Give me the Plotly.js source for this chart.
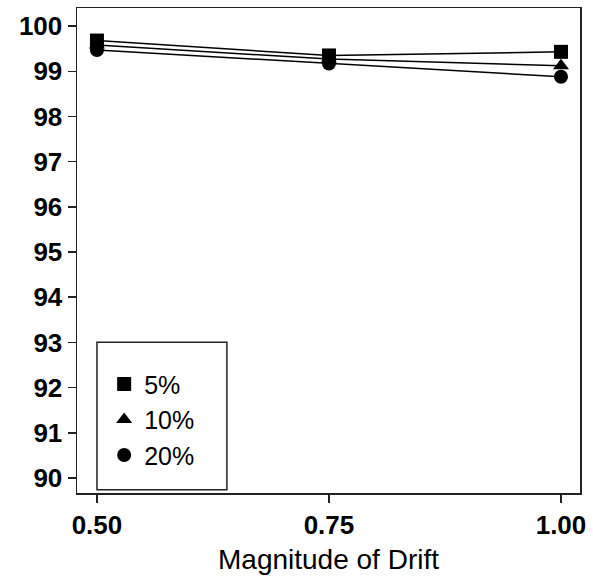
<!DOCTYPE html>
<html>
<head>
<meta charset="utf-8">
<script src="https://cdn.plot.ly/plotly-3.0.1.min.js"></script>
<style>html,body{margin:0;padding:0;background:#fff}#chart{width:593px;height:576px}</style>
</head>
<body>
<div id="chart"></div>
<script>
const drift = [0.50, 0.75, 1.00];
const seriesNames = ["5%", "10%", "20%"];
const pct5 = [99.68, 99.35, 99.43];
const pct10 = [99.58, 99.27, 99.12];
const pct20 = [99.47, 99.17, 98.88];
const xTickVals = [0.50, 0.75, 1.00];
const xTickText = ["0.50", "0.75", "1.00"];
const yTickVals = [90, 91, 92, 93, 94, 95, 96, 97, 98, 99, 100];

const symbols = ["square", "triangle-up", "circle"];
const allSeries = [pct5, pct10, pct20];

const traces = [];
allSeries.forEach((vals, i) => {
  traces.push({
    x: drift, y: vals, type: "scatter", mode: "lines+markers",
    name: seriesNames[i], showlegend: false,
    line: {color: "#000", width: 1.5},
    marker: {symbol: symbols[i], size: 14, color: "#000"}
  });
});
allSeries.forEach((vals, i) => {
  traces.push({
    x: [null], y: [null], type: "scatter", mode: "markers",
    name: seriesNames[i], showlegend: true,
    marker: {symbol: symbols[i], size: 14, color: "#000"}
  });
});

const font = {family: "Liberation Sans, Arial, sans-serif", color: "#000"};

const layout = {
  width: 593, height: 576,
  margin: {l: 77, r: 13, t: 7.5, b: 82.7, pad: 0},
  paper_bgcolor: "#fff", plot_bgcolor: "#fff",
  font: font,
  showlegend: true,
  legend: {
    x: 0.054, y: 0.151, xanchor: "left", yanchor: "middle",
    bgcolor: "rgba(0,0,0,0)", borderwidth: 0,
    font: {family: font.family, size: 25, color: "#000"},
    tracegroupgap: 0
  },
  xaxis: {
    range: [0.4785, 1.0205],
    tickvals: xTickVals, ticktext: xTickText,
    ticks: "outside", ticklen: 8, tickwidth: 1.5, tickcolor: "#222",
    showline: true, linecolor: "#222", linewidth: 1.5, mirror: true,
    showgrid: false, zeroline: false,
    tickfont: {family: font.family, size: 26, color: "#000", weight: "bold"},
    title: {text: "Magnitude of Drift", font: {family: font.family, size: 28, color: "#000"}, standoff: 10}
  },
  yaxis: {
    range: [89.668, 100.40],
    tickvals: yTickVals,
    ticks: "outside", ticklen: 8, tickwidth: 1.5, tickcolor: "#222",
    showline: true, linecolor: "#222", linewidth: 1.5, mirror: true,
    showgrid: false, zeroline: false,
    tickfont: {family: font.family, size: 26, color: "#000", weight: "bold"}
  },
  shapes: [{
    type: "rect", xref: "paper", yref: "paper",
    x0: 0.0397, x1: 0.298, y0: 0.0068, y1: 0.3108,
    line: {color: "#222", width: 1.5}, fillcolor: "rgba(0,0,0,0)"
  }]
};

Plotly.newPlot("chart", traces, layout, {displayModeBar: false, staticPlot: true});
</script>
</body>
</html>
